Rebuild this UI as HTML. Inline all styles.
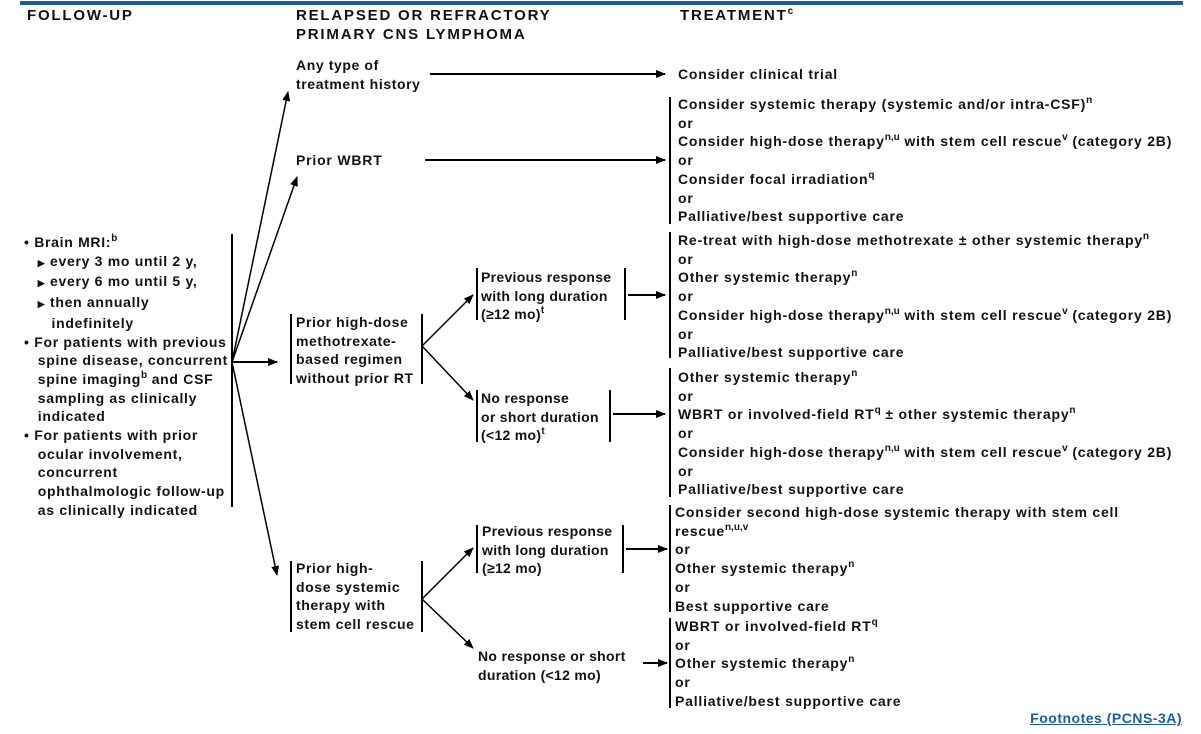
<!DOCTYPE html>
<html><head><meta charset="utf-8"><style>
body{margin:0;width:1201px;height:734px;background:#fff;position:relative;overflow:hidden;font-family:"Liberation Sans",Arial,sans-serif;font-weight:bold;font-size:14px;color:#111;letter-spacing:0.8px}
.t{position:absolute;white-space:nowrap;line-height:18.7px}
sup{font-size:10px;vertical-align:6px;line-height:0;letter-spacing:0}
.h{font-size:15px;letter-spacing:1.8px}
svg{position:absolute;left:0;top:0}
</style></head><body>
<svg width="1201" height="734">
<defs><marker id="a" markerWidth="10" markerHeight="8" refX="9" refY="4" orient="auto" markerUnits="userSpaceOnUse"><path d="M0,0 L10,4 L0,8z" fill="#000"/></marker></defs>
<line x1="20" y1="3" x2="1183" y2="3" stroke="#1a5e9a" stroke-width="4"/>
<g stroke="#000" stroke-width="1.5" fill="none">
<line x1="232" y1="234" x2="232" y2="507" stroke-width="2"/>
<line x1="232" y1="362" x2="288" y2="92" marker-end="url(#a)"/>
<line x1="232" y1="362" x2="297" y2="177" marker-end="url(#a)"/>
<line x1="232" y1="362" x2="277" y2="362" stroke-width="2" marker-end="url(#a)"/>
<line x1="232" y1="362" x2="277" y2="575" marker-end="url(#a)"/>
<line x1="430" y1="74" x2="665" y2="74" stroke-width="2" marker-end="url(#a)"/>
<line x1="425" y1="160" x2="665" y2="160" stroke-width="2" marker-end="url(#a)"/>
<line x1="291" y1="314" x2="291" y2="384" stroke-width="2"/>
<line x1="422" y1="314" x2="422" y2="384" stroke-width="2"/>
<line x1="422" y1="346" x2="473" y2="295" marker-end="url(#a)"/>
<line x1="422" y1="346" x2="473" y2="400" marker-end="url(#a)"/>
<line x1="477" y1="268" x2="477" y2="320" stroke-width="2"/>
<line x1="625" y1="268" x2="625" y2="320" stroke-width="2"/>
<line x1="628" y1="295" x2="665" y2="295" stroke-width="2" marker-end="url(#a)"/>
<line x1="477" y1="390" x2="477" y2="442" stroke-width="2"/>
<line x1="610" y1="390" x2="610" y2="442" stroke-width="2"/>
<line x1="613" y1="414" x2="665" y2="414" stroke-width="2" marker-end="url(#a)"/>
<line x1="291" y1="561" x2="291" y2="632" stroke-width="2"/>
<line x1="422" y1="561" x2="422" y2="632" stroke-width="2"/>
<line x1="422" y1="599" x2="473" y2="548" marker-end="url(#a)"/>
<line x1="422" y1="599" x2="473" y2="648" marker-end="url(#a)"/>
<line x1="477" y1="525" x2="477" y2="573" stroke-width="2"/>
<line x1="623" y1="525" x2="623" y2="573" stroke-width="2"/>
<line x1="626" y1="549" x2="667" y2="549" stroke-width="2" marker-end="url(#a)"/>
<line x1="643" y1="663" x2="667" y2="663" stroke-width="2" marker-end="url(#a)"/>
<line x1="670" y1="97" x2="670" y2="224" stroke-width="2"/>
<line x1="670" y1="232" x2="670" y2="358" stroke-width="2"/>
<line x1="670" y1="368" x2="670" y2="497" stroke-width="2"/>
<line x1="670" y1="505" x2="670" y2="612" stroke-width="2"/>
<line x1="670" y1="618" x2="670" y2="708" stroke-width="2"/>
</g>
</svg>
<div class="t h" style="left:27px;top:7px">FOLLOW-UP</div>
<div class="t h" style="left:296px;top:7px">RELAPSED OR REFRACTORY<br>PRIMARY CNS LYMPHOMA</div>
<div class="t h" style="left:680px;top:7px">TREATMENT<sup>c</sup></div>

<div class="t" style="left:296px;top:56px;letter-spacing:0.6px">Any type of<br>treatment history</div>
<div class="t" style="left:296px;top:151px">Prior WBRT</div>
<div class="t" style="left:296px;top:313px;letter-spacing:0.6px">Prior high-dose<br>methotrexate-<br>based regimen<br>without prior RT</div>
<div class="t" style="left:296px;top:559px;letter-spacing:0.6px">Prior high-<br>dose systemic<br>therapy with<br>stem cell rescue</div>
<div class="t" style="left:481px;top:268px;letter-spacing:0.3px">Previous response<br>with long duration<br>(≥12 mo)<sup>t</sup></div>
<div class="t" style="left:481px;top:389px;letter-spacing:0.3px">No response<br>or short duration<br>(&lt;12 mo)<sup>t</sup></div>
<div class="t" style="left:482px;top:522px;letter-spacing:0.3px">Previous response<br>with long duration<br>(≥12 mo)</div>
<div class="t" style="left:478px;top:647px;letter-spacing:0.3px">No response or short<br>duration (&lt;12 mo)</div>

<div class="t" style="left:24px;top:233px;letter-spacing:0.7px">• Brain MRI:<sup>b</sup><br>&nbsp;&nbsp;&nbsp;<span style="font-size:9px">▶</span> every 3 mo until 2 y,<br>&nbsp;&nbsp;&nbsp;<span style="font-size:9px">▶</span> every 6 mo until 5 y,<br>&nbsp;&nbsp;&nbsp;<span style="font-size:9px">▶</span> then annually<br>&nbsp;&nbsp;&nbsp;&nbsp;&nbsp;&nbsp;indefinitely<br>• For patients with previous<br>&nbsp;&nbsp;&nbsp;spine disease, concurrent<br>&nbsp;&nbsp;&nbsp;spine imaging<sup>b</sup> and CSF<br>&nbsp;&nbsp;&nbsp;sampling as clinically<br>&nbsp;&nbsp;&nbsp;indicated<br>• For patients with prior<br>&nbsp;&nbsp;&nbsp;ocular involvement,<br>&nbsp;&nbsp;&nbsp;concurrent<br>&nbsp;&nbsp;&nbsp;ophthalmologic follow-up<br>&nbsp;&nbsp;&nbsp;as clinically indicated</div>

<div class="t" style="left:678px;top:65px">Consider clinical trial</div>
<div class="t" style="left:678px;top:95px">Consider systemic therapy (systemic and/or intra-CSF)<sup>n</sup><br>or<br>Consider high-dose therapy<sup>n,u</sup> with stem cell rescue<sup>v</sup> (category 2B)<br>or<br>Consider focal irradiation<sup>q</sup><br>or<br>Palliative/best supportive care</div>
<div class="t" style="left:678px;top:231px">Re-treat with high-dose methotrexate ± other systemic therapy<sup>n</sup><br>or<br>Other systemic therapy<sup>n</sup><br>or<br>Consider high-dose therapy<sup>n,u</sup> with stem cell rescue<sup>v</sup> (category 2B)<br>or<br>Palliative/best supportive care</div>
<div class="t" style="left:678px;top:368px">Other systemic therapy<sup>n</sup><br>or<br>WBRT or involved-field RT<sup>q</sup> ± other systemic therapy<sup>n</sup><br>or<br>Consider high-dose therapy<sup>n,u</sup> with stem cell rescue<sup>v</sup> (category 2B)<br>or<br>Palliative/best supportive care</div>
<div class="t" style="left:675px;top:503px">Consider second high-dose systemic therapy with stem cell<br>rescue<sup>n,u,v</sup><br>or<br>Other systemic therapy<sup>n</sup><br>or<br>Best supportive care</div>
<div class="t" style="left:675px;top:617px">WBRT or involved-field RT<sup>q</sup><br>or<br>Other systemic therapy<sup>n</sup><br>or<br>Palliative/best supportive care</div>
<div class="t" style="right:19px;top:709px;color:#1a5e9a;text-decoration:underline;letter-spacing:0.5px">Footnotes (PCNS-3A)</div>
</body></html>
